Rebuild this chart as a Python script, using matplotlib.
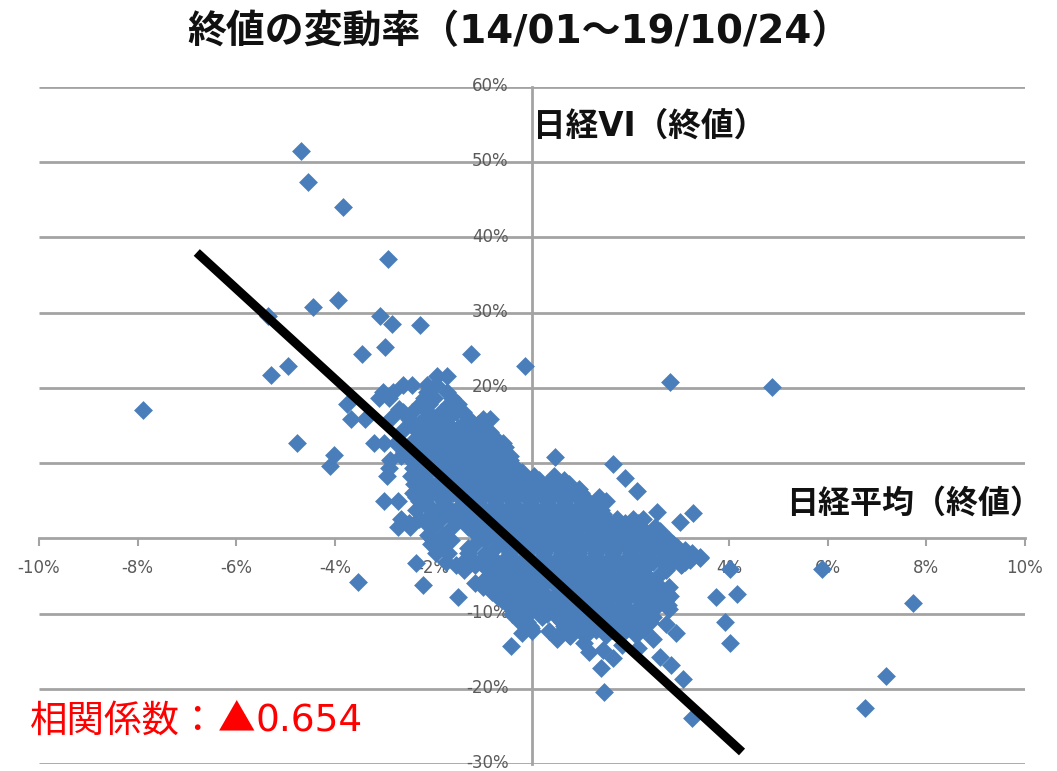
import matplotlib
matplotlib.use("Agg")
import matplotlib.pyplot as plt
from matplotlib.transforms import ScaledTranslation

# Isolated points (Nikkei %, VI %)
outlier_x = [-4.69,-4.54,-3.83,-2.92,-3.94,-4.44,-5.35,-3.08,-2.84,-2.27,-2.98,-3.45,-1.24,-0.14,-4.95,-5.29,-7.89,
             2.80,4.87,-4.77,-4.02,-4.10,-3.53,-2.21,-2.35,-1.50,-0.43,1.46,3.25,6.75,7.18,7.73,5.88,4.02,4.16,3.73,
             3.91,4.02,3.06,2.82,2.92,3.41,3.27,3.00,2.54,2.13,1.89,1.64,0.47,
             1.05,1.15,1.45,1.40,1.65,1.82,2.15,2.60,2.72,2.45,0.78,0.35,-0.03,3.05,3.20,
             -0.20,0.00,0.50,2.95,3.10,-2.70,-2.62,-2.85,-2.65]
outlier_y = [51.5,47.4,44.1,37.2,31.7,30.7,29.5,29.5,28.5,28.3,25.5,24.5,24.5,22.9,22.9,21.7,17.1,
             20.8,20.1,12.7,11.1,9.6,-5.8,-6.2,-3.3,-7.8,-14.3,-20.4,-23.9,-22.5,-18.3,-8.6,-4.1,-4.1,-7.4,-7.8,
             -11.1,-13.9,-18.7,-16.8,-12.6,-2.6,3.4,2.2,3.5,6.3,8.0,9.9,10.8,
             -13.9,-15.1,-14.8,-17.2,-15.9,-14.2,-14.6,-15.8,-11.4,-13.4,-13.0,-12.3,-11.9,-3.4,-2.9,
             -12.6,-12.3,-13.4,-1.2,-1.6,17.2,14.4,16.0,11.0]

# Dense cloud read band by band: one y level and the x positions seen on that level
cloud_levels = [21.6,20.4,19.5,18.6,17.8,16.8,15.8,14.7,13.6,12.7,11.5,10.4,9.4,8.3,7.2,6.0,5.0,3.8,2.6,1.5,0.4,
                -0.8,-1.9,-3.1,-4.2,-5.4,-6.5,-7.7,-8.8,-10.0,-11.1,-12.2,
                15.2,14.2,13.1,12.1,11.0,9.9,8.8,7.7,6.6,5.5,4.4,3.2,2.0,1.0,-0.2,-1.3,-2.5,-3.6,-4.8,-5.9,-7.1,-8.2,
                -9.4,-10.5,-11.6,-12.8]
cloud_x = [
    [-1.93,-1.72],
    [-2.62,-2.44,-2.12,-1.95],
    [-3.02,-2.82,-2.12,-1.72],
    [-3.10,-2.90,-2.20,-1.98,-1.62],
    [-3.76,-2.28,-2.08,-1.68,-1.50],
    [-2.62,-2.44,-2.10,-1.85,-1.55,-1.40],
    [-3.68,-3.38,-2.50,-2.20,-2.00,-1.72,-1.28,-1.00,-0.85],
    [-2.40,-2.10,-1.85,-1.50,-1.20,-0.95],
    [-2.25,-1.95,-1.62,-1.30,-1.00,-0.80],
    [-3.20,-3.00,-2.75,-2.40,-2.10,-1.80,-1.50,-1.20,-0.90,-0.58],
    [-2.60,-2.25,-1.90,-1.55,-1.20,-0.85,-0.55],
    [-2.88,-2.45,-2.10,-1.80,-1.45,-1.10,-0.75,-0.45],
    [-2.90,-2.42,-2.10,-1.75,-1.40,-1.05,-0.70,-0.35],
    [-2.95,-2.45,-2.20,-1.60,-1.25,-0.90,-0.55,-0.20,0.05,0.45],
    [-2.40,-2.05,-1.70,-1.40,-1.05,-0.70,-0.35,0.00,0.30,0.50,0.75],
    [-2.42,-1.95,-1.60,-1.25,-0.90,-0.55,-0.20,0.15,0.50,0.85,1.00],
    [-3.00,-2.72,-2.30,-1.80,-1.40,-1.10,-0.75,-0.40,-0.05,0.30,0.65,1.00,1.30,1.50],
    [-2.35,-2.00,-1.65,-1.30,-0.95,-0.60,-0.25,0.10,0.45,0.80,1.15,1.40],
    [-2.65,-2.30,-1.85,-1.50,-1.15,-0.80,-0.45,-0.10,0.25,0.60,0.95,1.30,1.50,1.72,2.05,2.25],
    [-2.72,-2.48,-2.00,-1.62,-1.30,-0.95,-0.60,-0.25,0.10,0.45,0.80,1.15,1.50,1.85,2.15,2.50],
    [-2.10,-1.80,-1.10,-0.78,-0.45,-0.10,0.25,0.60,0.95,1.30,1.65,2.00,2.35,2.62],
    [-2.05,-1.85,-1.15,-0.60,-0.25,0.10,0.45,0.80,1.15,1.50,1.85,2.20,2.55,2.85],
    [-1.95,-1.70,-1.30,-0.95,-0.45,-0.10,0.25,0.60,0.95,1.30,1.65,2.00,2.35,2.65,2.95,3.25],
    [-1.75,-1.40,-1.05,-0.70,-0.35,0.00,0.35,0.70,1.05,1.40,1.75,2.10,2.45,2.85,3.10],
    [-1.38,-0.90,-0.55,-0.20,0.15,0.50,0.85,1.20,1.55,1.90,2.25,2.72],
    [-0.95,-0.70,-0.35,0.00,0.35,0.70,1.05,1.40,1.75,2.10,2.40],
    [-1.00,-0.55,-0.20,0.15,0.50,0.85,1.20,1.55,1.90,2.25,2.60,2.78],
    [-0.72,-0.35,0.00,0.30,0.70,1.05,1.40,1.75,2.10,2.55,2.80],
    [-0.48,-0.15,0.12,0.50,0.85,1.20,1.55,1.85,2.25,2.55,2.75],
    [-0.40,-0.10,0.30,0.65,1.00,1.35,1.70,2.00,2.38],
    [-0.25,-0.10,0.60,0.85,1.20,1.55,1.80,2.12,2.40],
    [0.62,0.95,1.30,1.62,1.90,2.28],
    [-2.30,-2.00,-1.70,-1.40,-1.10],
    [-2.30,-2.00,-1.70,-1.35,-1.05,-0.85],
    [-2.40,-2.10,-1.80,-1.45,-1.15,-0.85],
    [-2.45,-2.10,-1.75,-1.40,-1.05,-0.75,-0.55],
    [-2.40,-2.10,-1.75,-1.40,-1.05,-0.70,-0.45],
    [-2.30,-1.95,-1.60,-1.25,-0.90,-0.60,-0.40],
    [-2.30,-1.90,-1.55,-1.20,-0.85,-0.50,-0.20],
    [-2.25,-1.85,-1.50,-1.20,-0.85,-0.50,-0.15,0.15,0.40,0.65],
    [-2.20,-1.80,-1.45,-1.10,-0.75,-0.40,-0.05,0.30,0.65,0.95],
    [-2.35,-2.10,-1.75,-1.40,-1.05,-0.70,-0.35,0.00,0.35,0.70,1.05,1.35],
    [-2.15,-1.80,-1.45,-1.10,-0.75,-0.40,-0.05,0.30,0.65,1.00,1.28],
    [-2.05,-1.70,-1.35,-1.00,-0.65,-0.30,0.05,0.40,0.75,1.10,1.45],
    [-2.50,-2.15,-1.30,-0.95,-0.60,-0.25,0.10,0.45,0.80,1.15,1.50,1.88,2.15],
    [-1.20,-0.85,-0.50,-0.15,0.20,0.55,0.90,1.25,1.60,1.95,2.30,2.60],
    [-2.00,-1.65,-0.95,-0.60,-0.25,0.10,0.45,0.80,1.15,1.50,1.85,2.20,2.55,2.78],
    [-1.95,-1.30,-0.75,-0.40,-0.05,0.30,0.65,1.00,1.35,1.70,2.05,2.40,2.70,2.95],
    [-1.25,-0.85,-0.50,-0.15,0.20,0.55,0.90,1.25,1.60,1.95,2.30,2.65,3.00,3.40],
    [-1.55,-1.15,-0.80,-0.45,-0.10,0.25,0.60,0.95,1.30,1.65,2.00,2.35,2.70,3.02],
    [-0.85,-0.50,-0.15,0.20,0.55,0.90,1.25,1.60,1.95,2.30,2.60],
    [-1.15,-0.80,-0.45,-0.10,0.25,0.60,0.95,1.30,1.65,2.00,2.30,2.50],
    [-0.82,-0.48,-0.15,0.20,0.55,0.90,1.25,1.60,1.95,2.35,2.72],
    [-0.60,-0.25,0.15,0.50,0.85,1.20,1.55,1.90,2.40,2.72],
    [-0.30,0.00,0.35,0.70,1.05,1.40,1.75,2.10,2.42,2.78],
    [-0.15,0.20,0.50,0.85,1.20,1.50,1.85,2.20,2.45],
    [-0.05,0.65,0.95,1.30,1.65,2.00,2.28],
    [0.75,1.10,1.50,1.78,2.10],
]
line_x = [-6.8, 4.26]
line_y = [38.0, -28.4]
x_ticks = [-10,-8,-6,-4,-2,0,2,4,6,8,10]
y_ticks = [-30,-20,-10,0,10,20,30,40,50,60]

cloud_xs = [x for row in cloud_x for x in row]
cloud_ys = [lv for lv, row in zip(cloud_levels, cloud_x) for _ in row]

W, H = 1057, 771
fig = plt.figure(figsize=(W/100, H/100), dpi=100, facecolor="white")
ax = fig.add_axes([39/W, 1-764/H, (1025-39)/W, (764-87)/H])
ax.set_xlim(-10, 10)
ax.set_ylim(-30, 60)
ax.patch.set_visible(False)

grey = "#a3a3a3"
ax.hlines([t for t in y_ticks if t != 0], -10, 10, color=grey, lw=2.0, zorder=1)
for s in ("top", "right"):
    ax.spines[s].set_visible(False)
for s in ("left", "bottom"):
    ax.spines[s].set_position("zero")
    ax.spines[s].set_color(grey)
    ax.spines[s].set_linewidth(2.0)
    ax.spines[s].set_zorder(1)

ax.scatter(outlier_x + cloud_xs, outlier_y + cloud_ys, marker="D", s=9.6**2, color="#4a7ebb",
           linewidths=0, zorder=2)
ax.plot(line_x, line_y, color="black", lw=6.5, solid_capstyle="butt", zorder=3)

ax.set_xticks(x_ticks)
ax.set_xticklabels([f"{t}%" for t in x_ticks])
ax.set_yticks(y_ticks)
ax.set_yticklabels([f"{t}%" for t in y_ticks])
ax.tick_params(axis="x", direction="out", length=6, width=1.5, color=grey, pad=9,
               labelsize=12, labelcolor="#5a5a5a")
ax.tick_params(axis="y", length=0, pad=17, labelsize=12, labelcolor="#5a5a5a")
up = ScaledTranslation(0, 2/72, fig.dpi_scale_trans)
for lbl in ax.get_yticklabels():
    lbl.set_transform(lbl.get_transform() + up)

bold = dict(family=["DejaVu Sans", "Noto Sans CJK JP"], fontweight="bold", color="#111111")
fig.text(519/W, 1-32/H, "終値の変動率（14/01～19/10/24）", fontsize=28, ha="center", va="center", **bold)
fig.text(533/W, 1-126/H, "日経VI（終値）", fontsize=23.5, ha="left", va="center", **bold)
fig.text(1042/W, 1-504/H, "日経平均（終値）", fontsize=23, ha="right", va="center", **bold)

red = "#ff0000"
fig.text(30/W, 1-721/H, "相関係数：", fontsize=27, ha="left", va="center", color=red, family="Noto Sans CJK JP")
fig.text(218/W, 1-721/H, "▲", fontsize=27, ha="left", va="center", color=red, family="Noto Sans CJK JP")
fig.text(255/W, 1-721/H, "0.654", fontsize=27, ha="left", va="center", color=red, family="DejaVu Sans")

fig.savefig("out.png", dpi=100)
